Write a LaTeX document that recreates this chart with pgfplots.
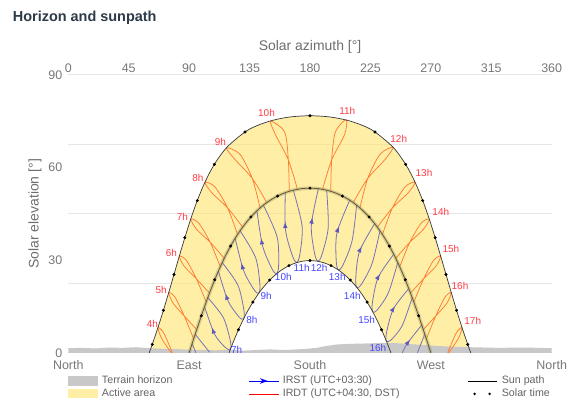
\documentclass[border=0pt]{standalone}
\usepackage{fontspec}
\setmainfont{Liberation Sans}
\usepackage{pgfplots}
\pgfplotsset{compat=1.18}
\usetikzlibrary{decorations.markings,arrows.meta}

\definecolor{areaY}{RGB}{255,228,107}
\definecolor{areaL}{RGB}{255,239,166}
\definecolor{terrain}{RGB}{200,200,200}
\definecolor{redl}{RGB}{255,125,50}
\definecolor{bluel}{RGB}{118,114,182}
\definecolor{bluea}{RGB}{92,88,190}
\definecolor{redt}{RGB}{255,60,70}
\definecolor{bluet}{RGB}{70,70,255}
\definecolor{ticktext}{RGB}{120,120,120}
\definecolor{axtext}{RGB}{110,110,110}
\definecolor{legtext}{RGB}{100,100,100}
\definecolor{titlec}{RGB}{45,58,72}
\definecolor{gridc}{RGB}{230,230,230}
\definecolor{pathc}{RGB}{55,55,55}
\definecolor{eqc}{RGB}{95,90,60}
\definecolor{eqhalo}{RGB}{150,140,90}

\pgfplotsset{
  redloop/.style={draw=redl, line width=0.75bp, smooth, forget plot},
  blueloop/.style={draw=bluel, line width=0.8bp, smooth, forget plot,
    postaction={decorate},
    decoration={markings, mark=at position 0.8 with {\arrow{Latex[length=6bp,width=4.6bp,color=bluea]}}}},
  blueplain/.style={draw=bluel, line width=0.8bp, smooth, forget plot},
}

\begin{document}
\begin{tikzpicture}
\useasboundingbox (0,0) rectangle (571bp,403bp);
\fill[white] (0,0) rectangle (571bp,403bp);
\node[anchor=base west, inner sep=0pt, font=\bfseries\fontsize{14.5}{16}\selectfont, text=titlec] at (12.7bp,381.3bp) {Horizon and sunpath};

% top azimuth scale
\begin{axis}[
  at={(68.3bp,50.2bp)}, anchor=south west,
  scale only axis, width=483.4bp, height=278bp,
  xmin=0, xmax=360, ymin=0, ymax=90,
  axis x line*=top, hide y axis,
  axis line style={draw=none}, tick style={draw=none}, major tick length=0pt,
  xtick={0,45,...,360},
  tick label style={font=\fontsize{12.5}{14}\selectfont, text=ticktext},
  xticklabel style={inner sep=0pt, yshift=2.3bp},
  /pgf/number format/assume math mode=true,
  xlabel={Solar azimuth [°]},
  xlabel style={at={(axis description cs:0.5,1)}, anchor=base, yshift=23.8bp, font=\fontsize{14}{16}\selectfont, text=axtext},
]
\end{axis}

\begin{axis}[
  at={(68.3bp,50.2bp)}, anchor=south west,
  scale only axis, width=483.4bp, height=278bp,
  xmin=0, xmax=360, ymin=0, ymax=90,
  axis line style={draw=none}, tick style={draw=none}, major tick length=0pt,
  xtick={0,90,180,270,360},
  xticklabels={North,East,South,West,North},
  ytick={0,30,60,90},
  extra y ticks={0,22.5,45,67.5,90},
  extra y tick labels={},
  extra y tick style={grid=major, major grid style={draw=gridc, line width=0.8bp}},
  tick label style={font=\fontsize{12.5}{14}\selectfont, text=ticktext},
  xticklabel style={inner sep=0pt, yshift=-7.7bp},
  yticklabel style={inner sep=0pt, xshift=-5.8bp},
  /pgf/number format/assume math mode=true,
  ylabel={Solar elevation [°]},
  every axis y label/.style={at={(axis description cs:-0.0689,0.5)}, rotate=90, anchor=center, font=\fontsize{14}{16}\selectfont, text=axtext},
  legend columns=3,
  legend cell align=left,
  legend style={at={(axis description cs:0,0)}, anchor=north west, yshift=-23bp,
    draw=none, fill=none, inner sep=0pt, row sep=2.9bp,
    font=\fontsize{10.7}{12}\selectfont, text=legtext,
    nodes={inner sep=0pt, text height=7.8bp, text depth=2.2bp},
    /tikz/every odd column/.append style={column sep=3.5bp}},
]

% ---- legend images
\addlegendimage{legend image code/.code={\path[draw=none,fill=none] (0,-4.5bp) rectangle (30bp,4.5bp); \fill[terrain, draw=none] (0,-4.5bp) rectangle (30bp,4.5bp);}}
\addlegendentry{\makebox[146.5bp][l]{Terrain horizon}}
\addlegendimage{legend image code/.code={\path[draw=none,fill=none] (0,-4.5bp) rectangle (30bp,4.5bp); \draw[blue, line width=0.8bp] (0,0) -- (30bp,0); \fill[blue, draw=none] (19bp,0) -- (11bp,2.8bp) -- (13.5bp,0) -- (11bp,-2.8bp) -- cycle;}}
\addlegendentry{\makebox[185.2bp][l]{IRST (UTC+03:30)}}
\addlegendimage{legend image code/.code={\path[draw=none,fill=none] (0,-4.5bp) rectangle (30bp,4.5bp); \draw[black, line width=0.7bp] (0,0) -- (28.3bp,0);}}
\addlegendentry{Sun path}
\addlegendimage{legend image code/.code={\path[draw=none,fill=none] (0,-4.5bp) rectangle (30bp,4.5bp); \fill[areaL, draw=none] (0,-4.5bp) rectangle (30bp,4.5bp);}}
\addlegendentry{\makebox[146.5bp][l]{Active area}}
\addlegendimage{legend image code/.code={\path[draw=none,fill=none] (0,-4.5bp) rectangle (30bp,4.5bp); \draw[red, line width=0.8bp] (0,0) -- (30bp,0);}}
\addlegendentry{\makebox[185.2bp][l]{IRDT (UTC+04:30, DST)}}
\addlegendimage{legend image code/.code={\path[draw=none,fill=none] (0,-4.5bp) rectangle (30bp,4.5bp); \fill[black, draw=none] (6.3bp,0) circle (1.4bp); \fill[black, draw=none] (21.3bp,0) circle (1.4bp);}}
\addlegendentry{Solar time}

% ---- active area (between summer and winter solstice paths)
\addplot[fill=areaY, fill opacity=0.6, draw=none, forget plot] coordinates {
(60.26,0) (62.53,2.71) (66.76,8.15) (70.84,13.75) (74.79,19.50) (78.71,25.35) (82.67,31.28) (86.78,37.27) (91.17,43.28) (96.05,49.28) (101.74,55.22) (108.77,61.02) (118.13,66.54) (131.59,71.49) (140.72,73.58) (151.94,75.24) (165.27,76.36) (180,76.74)
(194.73,76.36) (208.06,75.24) (219.28,73.58) (228.41,71.49) (241.87,66.54) (251.23,61.02) (258.26,55.22) (263.95,49.28) (268.83,43.28) (273.22,37.27) (277.33,31.28) (281.29,25.35) (285.21,19.50) (289.16,13.75) (293.24,8.15) (297.47,2.71) (299.74,0)
(240.26,0) (239.19,1.23) (236.88,3.78) (233.26,7.48) (229.44,11.00) (226.77,13.24) (222.55,16.41) (218.08,19.33) (214.95,21.12) (210.02,23.54) (204.83,25.62) (201.23,26.79) (195.63,28.22) (189.86,29.21) (185.94,29.63) (180,29.86)
(174.06,29.63) (170.14,29.21) (164.37,28.22) (158.77,26.79) (155.17,25.62) (149.98,23.54) (145.05,21.12) (141.92,19.33) (137.45,16.41) (133.23,13.24) (130.56,11.00) (126.74,7.48) (123.12,3.78) (120.81,1.23) (119.74,0)
} -- cycle;

% ---- terrain horizon
\addplot[fill=terrain, draw=none, forget plot] coordinates {
(0,0) (0,1.5) (10,1.6) (20,1.4) (30,1.7) (40,1.6) (50,1.8) (60,1.5) (70,1.3) (80,1.2) (90,1.0) (100,0.9) (110,0.8) (120,1.0) (130,0.7) (140,0.9) (150,1.1) (160,0.9) (175,1.2) (185,1.6) (192,2.2) (200,2.7) (210,2.9) (220,3.0) (235,3.2) (245,3.1) (255,2.8) (265,2.5) (275,2.2) (285,2.0) (300,1.8) (320,1.6) (340,1.7) (360,1.5) (360,0)
} -- cycle;

% ---- IRDT hour loops (red), spring/summer half year
\addplot[redloop] coordinates {(77.49,0) (71.06,6.43) (66.76,8.15) (69.63,4.55) (76.7,0)};
\addplot[redloop] coordinates {(93.37,4.51) (86.34,11.94) (79.39,18.05) (74.79,19.50) (78.02,16.09) (86.34,11.94) (95.63,7.50)};
\addplot[redloop] coordinates {(102.68,16.41) (95.40,23.95) (87.79,29.99) (82.67,31.28) (86.35,27.99) (95.40,23.95) (105.15,19.33)};
\addplot[redloop] coordinates {(113.18,27.84) (105.66,35.77) (97.16,42.00) (91.17,43.28) (95.48,40.00) (105.66,35.77) (116.13,30.58)};
\addplot[redloop] coordinates {(126.06,38.30) (118.66,46.90) (109.20,53.70) (101.74,55.22) (106.89,51.79) (118.66,46.90) (129.83,40.68)};
\addplot[redloop] coordinates {(142.83,46.91) (137.03,56.43) (127.78,64.31) (117.6,66.4) (123.93,62.68) (137.03,56.43) (147.80,48.62)};
\addplot[redloop] coordinates {(164.56,52.28) (163.86,62.45) (161.10,71.47) (150.7,75.0) (154.19,70.71) (163.86,62.45) (170.64,52.93)};
\addplot[redloop] coordinates {(195.44,52.28) (196.14,62.45) (198.90,71.47) (206.9,75.45) (205.81,70.71) (196.14,62.45) (189.36,52.93)};
\addplot[redloop] coordinates {(217.17,46.91) (222.97,56.43) (232.22,64.31) (241.87,66.54) (236.07,62.68) (222.97,56.43) (212.20,48.62)};
\addplot[redloop] coordinates {(233.94,38.30) (241.34,46.90) (250.80,53.70) (258.26,55.22) (253.11,51.79) (241.34,46.90) (230.17,40.68)};
\addplot[redloop] coordinates {(246.82,27.84) (254.34,35.77) (262.84,42.00) (268.83,43.28) (264.52,40.00) (254.34,35.77) (243.87,30.58)};
\addplot[redloop] coordinates {(257.32,16.41) (264.60,23.95) (272.21,29.99) (277.33,31.28) (273.65,27.99) (264.60,23.95) (254.85,19.33)};
\addplot[redloop] coordinates {(266.63,4.51) (273.66,11.94) (280.61,18.05) (285.21,19.50) (281.98,16.09) (273.66,11.94) (264.37,7.50)};
\addplot[redloop] coordinates {(282.51,0) (288.94,6.43) (293.24,8.15) (290.37,4.55) (283.3,0)};

% ---- IRST hour loops (blue), autumn/winter half year
\addplot[blueplain] coordinates {(94.50,6.01) (105.18,0.2)};
\addplot[blueplain] coordinates {(94.99,0) (92.24,3.01)};
\addplot[blueloop] coordinates {(103.90,17.87) (115.32,11.50) (120.54,4.14) (120.81,1.23) (117.43,1.51) (109.05,5.94) (101.47,14.93)};
\addplot[blueloop] coordinates {(114.64,29.22) (126.25,21.92) (130.72,13.98) (130.56,11.00) (127.11,11.64) (118.94,16.85) (111.77,26.45)};
\addplot[blueloop] coordinates {(127.91,39.50) (139.43,30.88) (142.65,22.31) (141.92,19.33) (138.40,20.40) (130.56,26.63) (124.27,37.07)};
\addplot[blueloop] coordinates {(145.27,47.80) (155.47,37.57) (156.65,28.51) (155.17,25.62) (151.70,27.20) (144.71,34.57) (140.47,45.98)};
\addplot[blueloop] coordinates {(167.58,52.65) (174.12,41.01) (172.46,31.87) (170.14,29.21) (166.98,31.33) (161.79,39.76) (161.59,51.85)};
\addplot[blueloop] coordinates {(192.42,52.65) (193.55,40.51) (188.97,31.87) (185.94,29.63) (183.42,32.19) (180.99,41.27) (186.26,53.14)};
\addplot[blueloop] coordinates {(214.73,47.80) (211.30,36.17) (204.65,28.51) (201.23,26.79) (199.54,29.65) (200.06,38.77) (209.60,49.40)};
\addplot[blueloop] coordinates {(232.09,39.50) (226.17,28.82) (218.47,22.31) (214.95,21.12) (214.05,24.09) (216.85,32.80) (228.19,41.81)};
\addplot[blueloop] coordinates {(245.36,29.22) (238.35,19.42) (230.24,13.98) (226.77,13.24) (226.48,16.22) (230.70,24.32) (242.34,31.91)};
\addplot[blueloop] coordinates {(256.10,17.87) (248.60,8.74) (240.28,4.14) (236.88,3.78) (237.05,6.71) (242.11,14.21) (253.58,20.77)};
\addplot[blueplain] coordinates {(265.50,6.01) (260.0,0)};
\addplot[draw=bluel, line width=0.8bp, smooth, forget plot, postaction={decorate},
  decoration={markings, mark=at position 0.45 with {\arrow{Latex[length=6bp,width=4.6bp,color=bluea]}}}]
  coordinates {(248.74,0) (252.55,3.09) (263.22,9.00)};

% ---- equinox path
\addplot[draw=eqhalo, opacity=0.35, line width=3.5bp, smooth, forget plot] coordinates {
(90,0) (92.24,3.01) (94.50,6.01) (96.78,9.00) (99.10,11.98) (101.47,14.93) (103.90,17.87) (106.42,20.77) (109.03,23.63) (111.77,26.45) (114.64,29.22) (117.66,31.91) (120.86,34.54) (124.27,37.07) (127.91,39.50) (131.81,41.81) (135.99,43.97) (140.47,45.98) (145.27,47.80) (150.40,49.40) (155.85,50.75) (161.59,51.85) (167.58,52.65) (173.74,53.14) (180,53.30)
(186.26,53.14) (192.42,52.65) (198.41,51.85) (204.15,50.75) (209.60,49.40) (214.73,47.80) (219.53,45.98) (224.01,43.97) (228.19,41.81) (232.09,39.50) (235.73,37.07) (239.14,34.54) (242.34,31.91) (245.36,29.22) (248.23,26.45) (250.97,23.63) (253.58,20.77) (256.10,17.87) (258.53,14.93) (260.90,11.98) (263.22,9.00) (265.50,6.01) (267.76,3.01) (270,0)
};
\addplot[draw=eqc, line width=0.8bp, smooth, forget plot] coordinates {
(90,0) (92.24,3.01) (94.50,6.01) (96.78,9.00) (99.10,11.98) (101.47,14.93) (103.90,17.87) (106.42,20.77) (109.03,23.63) (111.77,26.45) (114.64,29.22) (117.66,31.91) (120.86,34.54) (124.27,37.07) (127.91,39.50) (131.81,41.81) (135.99,43.97) (140.47,45.98) (145.27,47.80) (150.40,49.40) (155.85,50.75) (161.59,51.85) (167.58,52.65) (173.74,53.14) (180,53.30)
(186.26,53.14) (192.42,52.65) (198.41,51.85) (204.15,50.75) (209.60,49.40) (214.73,47.80) (219.53,45.98) (224.01,43.97) (228.19,41.81) (232.09,39.50) (235.73,37.07) (239.14,34.54) (242.34,31.91) (245.36,29.22) (248.23,26.45) (250.97,23.63) (253.58,20.77) (256.10,17.87) (258.53,14.93) (260.90,11.98) (263.22,9.00) (265.50,6.01) (267.76,3.01) (270,0)
};

% ---- summer and winter solstice paths
\addplot[draw=pathc, line width=0.7bp, smooth, forget plot] coordinates {
(60.26,0) (62.53,2.71) (66.76,8.15) (70.84,13.75) (74.79,19.50) (78.71,25.35) (82.67,31.28) (86.78,37.27) (91.17,43.28) (96.05,49.28) (101.74,55.22) (108.77,61.02) (118.13,66.54) (131.59,71.49) (140.72,73.58) (151.94,75.24) (165.27,76.36) (180,76.74)
(194.73,76.36) (208.06,75.24) (219.28,73.58) (228.41,71.49) (241.87,66.54) (251.23,61.02) (258.26,55.22) (263.95,49.28) (268.83,43.28) (273.22,37.27) (277.33,31.28) (281.29,25.35) (285.21,19.50) (289.16,13.75) (293.24,8.15) (297.47,2.71) (299.74,0)
};
\addplot[draw=pathc, line width=0.7bp, smooth, forget plot] coordinates {
(119.74,0) (120.81,1.23) (123.12,3.78) (126.74,7.48) (130.56,11.00) (133.23,13.24) (137.45,16.41) (141.92,19.33) (145.05,21.12) (149.98,23.54) (155.17,25.62) (158.77,26.79) (164.37,28.22) (170.14,29.21) (174.06,29.63) (180,29.86)
(185.94,29.63) (189.86,29.21) (195.63,28.22) (201.23,26.79) (204.83,25.62) (210.02,23.54) (214.95,21.12) (218.08,19.33) (222.55,16.41) (226.77,13.24) (229.44,11.00) (233.26,7.48) (236.88,3.78) (239.19,1.23) (240.26,0)
};

% ---- solar time dots (every hour of solar time)
\addplot[only marks, mark=*, mark size=1.3bp, black, forget plot] coordinates {
(180,76.74) (131.59,71.49) (228.41,71.49) (108.77,61.02) (251.23,61.02) (96.05,49.28) (263.95,49.28) (86.78,37.27) (273.22,37.27) (78.71,25.35) (281.29,25.35) (70.84,13.75) (289.16,13.75) (62.53,2.71) (297.47,2.71)
(180,53.30) (155.85,50.75) (204.15,50.75) (135.99,43.97) (224.01,43.97) (120.86,34.54) (239.14,34.54) (109.03,23.63) (250.97,23.63) (99.10,11.98) (260.90,11.98)
(180,29.86) (164.37,28.22) (195.63,28.22) (149.98,23.54) (210.02,23.54) (137.45,16.41) (222.55,16.41) (126.74,7.48) (233.26,7.48)
};

% ---- hour labels
\addplot[draw=none, forget plot, nodes near coords, point meta=explicit symbolic,
  every node near coord/.append style={anchor=center, inner sep=0pt, font=\fontsize{10}{11}\selectfont, text=redt}]
  table[meta=t] {
x y t
62.7 9.45 4h
69.2 20.3 5h
76.7 32.2 6h
84.9 44.1 7h
96.5 56.5 8h
113.2 68.3 9h
147.6 77.7 10h
207.7 78.4 11h
246.1 69.4 12h
264.9 58.3 13h
277.4 45.7 14h
284.9 33.6 15h
291.7 21.6 16h
301.2 10.3 17h
};
\addplot[draw=none, forget plot, nodes near coords, point meta=explicit symbolic,
  every node near coord/.append style={anchor=center, inner sep=0pt, font=\fontsize{10}{11}\selectfont, text=bluet}]
  table[meta=t] {
x y t
125.4 1.1 7h
136.8 10.6 8h
147.4 18.4 9h
160.1 24.4 10h
173.8 27.4 11h
186.8 27.4 12h
200.3 24.4 13h
211.5 18.4 14h
222.2 10.8 15h
230.6 1.5 16h
};
\end{axis}
\end{tikzpicture}
\end{document}
